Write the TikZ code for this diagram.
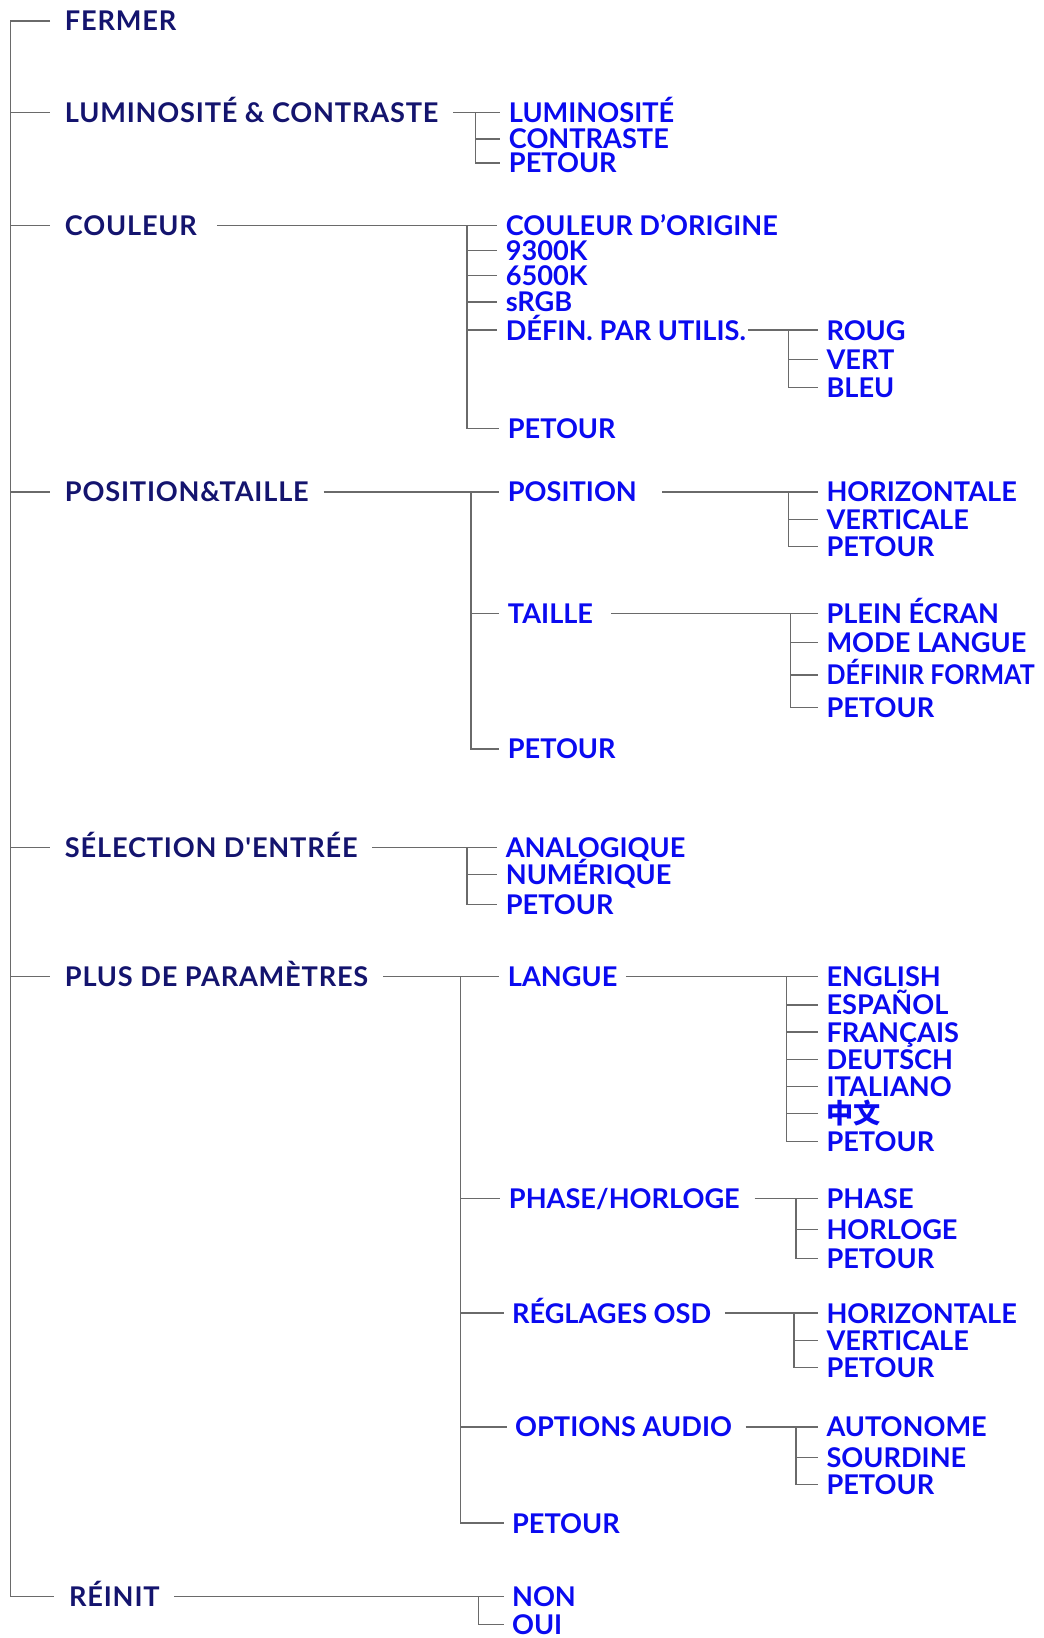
\documentclass[tikz,border=0pt]{standalone}
\usepackage{fontspec}
\setmainfont{Lato}
\newfontfamily\topfont{Lato}[LetterSpace=3]
\newfontfamily\cjk{Noto Sans CJK SC}
\definecolor{MenuNavy}{HTML}{14146E}
\definecolor{MenuBlue}{HTML}{0A0AF0}
\definecolor{LinkGray}{HTML}{6A6A6A}
\usetikzlibrary{calc}

\begin{document}
\begin{tikzpicture}[x=1pt,y=-1pt,
top/.style={anchor=west,inner xsep=14pt,inner ysep=0pt,text height=19pt,text depth=0pt,text=MenuNavy,font=\topfont\bfseries\fontsize{26}{26}\selectfont},
item/.style={top,inner xsep=8pt,text=MenuBlue,font=\rmfamily\bfseries\fontsize{26}{26}\selectfont},
link/.style={draw=LinkGray,line width=1.3pt}
]
\useasboundingbox (0,0) rectangle (999,1568);
% main menu
\node[top] (M1) at (48,20) {FERMER};
\node[top] (M2) at (48,108) {LUMINOSITÉ \& CONTRASTE};
\node[top] (M3) at (48,216) {COULEUR};
\node[top] (M4) at (48,471) {POSITION\&TAILLE};
\node[top] (M5) at (48,811) {SÉLECTION D'ENTRÉE};
\node[top] (M6) at (48,935) {PLUS DE PARAMÈTRES};
\node[top] (M7) at (52,1528) {RÉINIT};
\coordinate (root) at (10,20);
\draw[link] (M1.west) -- (root) |- (M7.west);
\foreach \m in {M2,M3,M4,M5,M6}
  \draw[link] (root |- \m.west) -- (\m.west);

% luminosite & contraste
\coordinate (jL) at (455,108);
\node[item] (L1) at (479,108) {LUMINOSITÉ};
\node[item] (L2) at (479,133) {CONTRASTE};
\node[item] (L3) at (479,156) {PETOUR};
\draw[link] (M2.east) -- (L1.west);
\draw[link] (jL) |- (L3.west);
\draw[link] (jL |- L2.west) -- (L2.west);

% couleur
\coordinate (jC) at (447,216);
\node[item] (C1) at (476,216) {COULEUR D'ORIGINE};
\node[item] (C2) at (476,240) {9300K};
\node[item] (C3) at (476,264) {6500K};
\node[item] (C4) at (476,289) {sRGB};
\node[item] (C5) at (476,316) {DÉFIN. PAR UTILIS.};
\node[item] (C6) at (478,410) {PETOUR};
\draw[link,shorten <=5pt] (M3.east) -- (C1.west);
\draw[link] (jC) |- (C6.west);
\foreach \c in {C2,C3,C4,C5}
  \draw[link] (jC |- \c.west) -- (\c.west);
\coordinate (jU) at (755,316);
\node[item] (U1) at (783,316) {ROUG};
\node[item] (U2) at (783,344) {VERT};
\node[item] (U3) at (783,371) {BLEU};
\draw[link,shorten <=-6pt] (C5.east) -- (U1.west);
\draw[link] (jU) |- (U3.west);
\draw[link] (jU |- U2.west) -- (U2.west);

% position & taille
\coordinate (jP) at (451,471);
\node[item] (P1) at (478,471) {POSITION};
\node[item] (P2) at (478,587) {TAILLE};
\node[item] (P3) at (478,717) {PETOUR};
\draw[link] (M4.east) -- (P1.west);
\draw[link] (jP) |- (P3.west);
\draw[link] (jP |- P2.west) -- (P2.west);
\coordinate (jH) at (755,471);
\node[item] (H1) at (783,471) {HORIZONTALE};
\node[item] (H2) at (783,497) {VERTICALE};
\node[item] (H3) at (783,523) {PETOUR};
\draw[link,shorten <=16pt] (P1.east) -- (H1.west);
\draw[link] (jH) |- (H3.west);
\draw[link] (jH |- H2.west) -- (H2.west);
\coordinate (jT) at (757,587);
\node[item] (T1) at (783,587) {PLEIN ÉCRAN};
\node[item] (T2) at (783,615) {MODE LANGUE};
\node[item] (T3) at (783,646) {\scalebox{0.92}[1]{DÉFINIR FORMAT}};
\node[item] (T4) at (783,677) {PETOUR};
\draw[link,shorten <=9pt] (P2.east) -- (T1.west);
\draw[link] (jT) |- (T4.west);
\foreach \t in {T2,T3}
  \draw[link] (jT |- \t.west) -- (\t.west);

% selection d'entree
\coordinate (jS) at (447,811);
\node[item] (S1) at (476,811) {ANALOGIQUE};
\node[item] (S2) at (476,837) {NUMÉRIQUE};
\node[item] (S3) at (476,866) {PETOUR};
\draw[link] (M5.east) -- (S1.west);
\draw[link] (jS) |- (S3.west);
\draw[link] (jS |- S2.west) -- (S2.west);

% plus de parametres
\coordinate (jX) at (441,935);
\node[item] (X1) at (478,935) {LANGUE};
\node[item] (X2) at (479,1147) {PHASE/HORLOGE};
\node[item] (X3) at (482,1257) {RÉGLAGES OSD};
\node[item] (X4) at (485,1366) {OPTIONS AUDIO};
\node[item] (X5) at (482,1458) {PETOUR};
\draw[link] (M6.east) -- (X1.west);
\draw[link] (jX) |- (X5.west);
\foreach \x in {X2,X3,X4}
  \draw[link] (jX |- \x.west) -- (\x.west);

% langue
\coordinate (jG) at (753,935);
\node[item] (G1) at (783,935) {ENGLISH};
\node[item] (G2) at (783,962) {ESPAÑOL};
\node[item] (G3) at (783,988) {FRANÇAIS};
\node[item] (G4) at (783,1014) {DEUTSCH};
\node[item] (G5) at (783,1040) {ITALIANO};
\node[item] (G6) at (783,1066) {\cjk 中文};
\node[item] (G7) at (783,1093) {PETOUR};
\draw[link] (X1.east) -- (G1.west);
\draw[link] (jG) |- (G7.west);
\foreach \g in {G2,G3,G4,G5,G6}
  \draw[link] (jG |- \g.west) -- (\g.west);

% phase / horloge
\coordinate (jQ) at (762,1147);
\node[item] (Q1) at (783,1147) {PHASE};
\node[item] (Q2) at (783,1177) {HORLOGE};
\node[item] (Q3) at (783,1205) {PETOUR};
\draw[link,shorten <=6pt] (X2.east) -- (Q1.west);
\draw[link] (jQ) |- (Q3.west);
\draw[link] (jQ |- Q2.west) -- (Q2.west);

% reglages osd
\coordinate (jR) at (760,1257);
\node[item] (R1) at (783,1257) {HORIZONTALE};
\node[item] (R2) at (783,1283) {VERTICALE};
\node[item] (R3) at (783,1309) {PETOUR};
\draw[link,shorten <=5pt] (X3.east) -- (R1.west);
\draw[link] (jR) |- (R3.west);
\draw[link] (jR |- R2.west) -- (R2.west);

% options audio
\coordinate (jA) at (762,1366);
\node[item] (A1) at (783,1366) {AUTONOME};
\node[item] (A2) at (783,1395) {SOURDINE};
\node[item] (A3) at (783,1421) {PETOUR};
\draw[link,shorten <=5pt] (X4.east) -- (A1.west);
\draw[link] (jA) |- (A3.west);
\draw[link] (jA |- A2.west) -- (A2.west);

% reinit
\coordinate (jN) at (458,1528);
\node[item] (N1) at (482,1528) {NON};
\node[item] (N2) at (482,1555) {OUI};
\draw[link] (M7.east) -- (N1.west);
\draw[link] (jN) |- (N2.west);
\end{tikzpicture}
\end{document}
